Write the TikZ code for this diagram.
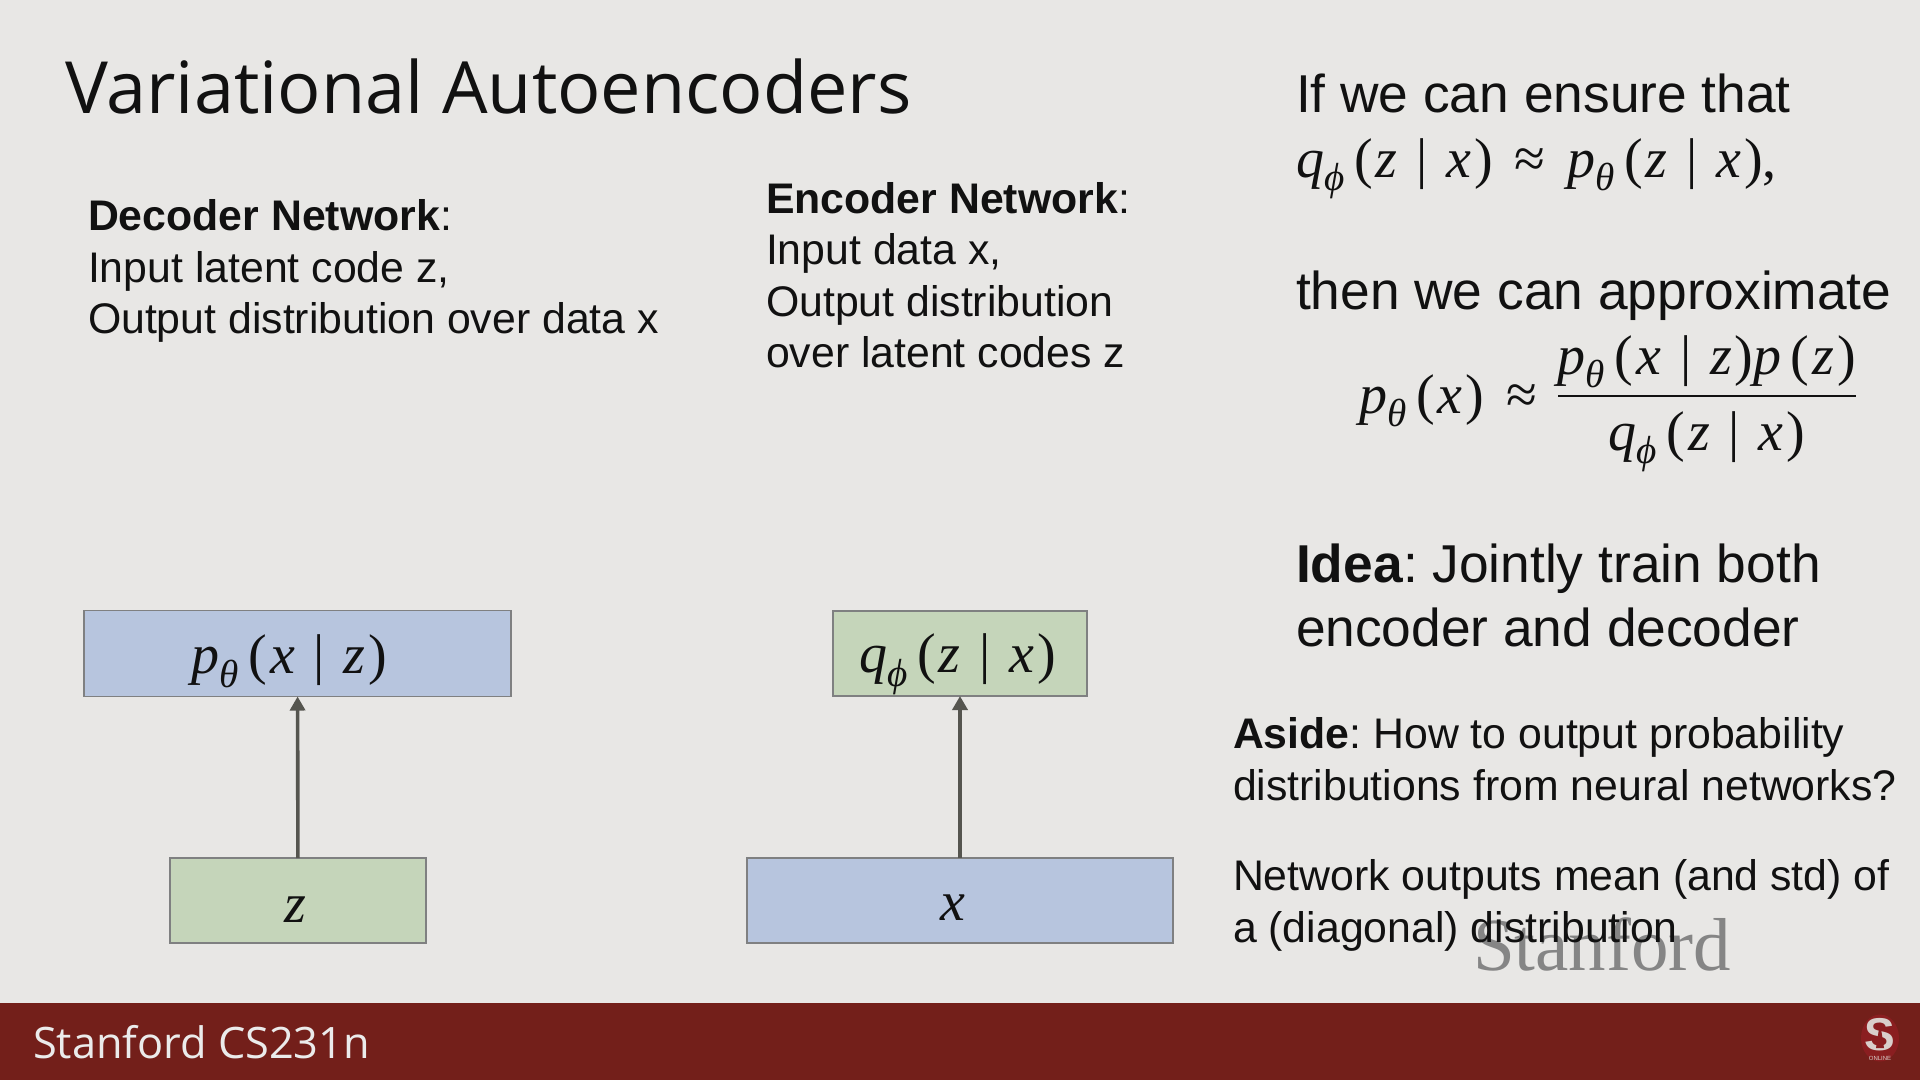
\documentclass[tikz,border=0pt]{standalone}
\usepackage{fix-cm}
\usepackage{amsmath}
\usepackage{fontspec}
\setmainfont{Liberation Sans}
\newfontfamily\titlefont{Open Sans}
\newfontfamily\wmfont{Liberation Serif}
\definecolor{bgc}{HTML}{E8E7E5}
\definecolor{barc}{HTML}{731F1A}
\definecolor{logoc}{HTML}{8A1E20}
\definecolor{logos}{HTML}{D9CFCB}
\definecolor{bluec}{HTML}{B7C5DE}
\definecolor{greenc}{HTML}{C5D5BA}
\definecolor{edgec}{HTML}{7F8081}
\definecolor{arrowc}{HTML}{55554F}
\definecolor{inkc}{HTML}{111111}
\usetikzlibrary{arrows.meta,shapes.geometric}
\tikzset{
  x=1pt,y=-1pt,
  every node/.style={inner sep=0pt,outer sep=0pt,text=inkc},
  txt/.style={anchor=base west,font=\fontsize{42.8}{50}\selectfont},
  big/.style={anchor=base west,font=\fontsize{53.3}{62}\selectfont},
  eq/.style={anchor=base west,font=\fontsize{56}{66}\selectfont},
  boxb/.style={draw=edgec,line width=1.8pt,fill=bluec,font=\fontsize{56}{66}\selectfont},
  boxg/.style={draw=edgec,line width=1.8pt,fill=greenc,font=\fontsize{56}{66}\selectfont},
  conn/.style={draw=arrowc,line width=3.6pt,-{Triangle[length=14pt,width=15pt]},shorten >=0pt},
}
\newcommand{\mv}[1]{\text{\wmfont\itshape #1}}
\newcommand{\mr}[1]{\text{\wmfont #1}}
\newcommand{\cnd}{\mskip6mu\text{\wmfont|}\mskip6mu}
\newcommand{\mP}{\mv{p}_{\mv{θ}}}
\newcommand{\mQ}{\mv{q}_{\mv{ϕ}}}
\newcommand{\lp}{\mskip3mu\mr{(}\mskip1mu}
\newcommand{\rp}{\mskip1mu\mr{)}}
\newcommand{\apx}{\mathrel{\mr{≈}}}
% label centred on its node, moved by #1 across, with its baseline #2 below the centre
\newcommand{\lbl}[3]{\hbox to 0pt{\hss\kern#1\raisebox{-#2}[0pt][0pt]{$#3$}\kern-#1\hss}}
\frenchspacing
\begin{document}
\begin{tikzpicture}
\useasboundingbox (0,0) rectangle (1920,1080);
\fill[bgc] (0,0) rectangle (1920,1080);
\fill[barc] (0,1003) rectangle (1920,1080);
\node[anchor=base west,font=\titlefont\fontsize{72}{84}\selectfont] (title) at (65,113) {Variational Autoencoders};
\node[anchor=base west,font=\titlefont\fontsize{43.3}{50}\selectfont,text=white!92!black] (foot) at (33,1058) {Stanford CS231n};
% watermark
\node[anchor=base west,font=\wmfont\fontsize{75}{85}\selectfont,text=black!48] (wm) at (1473,970) {Stanford};
% logo
\node[ellipse,fill=logoc,minimum width=38pt,minimum height=47pt] (logo) at (1880,1038) {};
\node[font=\bfseries\fontsize{46}{46}\selectfont,text=logos] (logoS) at (1880,1035) {S};
\fill[logoc] (1880,1022) -- (1884,1048) -- (1876,1048) -- cycle;
\node[font=\fontsize{6}{6}\selectfont,text=logos] (logot) at (1880,1058) {ONLINE};
% left
\node[txt] (d1) at (88,230) {\textbf{Decoder Network}:};
\node[txt] (d2) at (88,282) {Input latent code z,};
\node[txt] (d3) at (88,333) {Output distribution over data x};
\node[txt] (e1) at (766,213) {\textbf{Encoder Network}:};
\node[txt] (e2) at (766,264) {Input data x,};
\node[txt] (e3) at (766,316) {Output distribution};
\node[txt] (e4) at (766,367) {over latent codes z};
% right
\node[big] (r1) at (1296,112) {If we can ensure that};
\node[eq] (r2) at (1296,177) {$\mQ\lp\mv{z}\cnd\mv{x}\rp\mskip2mu\apx\mskip2mu\mP\lp\mv{z}\cnd\mv{x}\rp\mr{,}$};
\node[big] (r3) at (1296,309) {then we can approximate};
\node[eq] (r4) at (1359,413) {$\mP\lp\mv{x}\rp\mskip2mu\apx$};
\node[eq,anchor=base] (num) at (1707,374) {$\mP\lp\mv{x}\cnd\mv{z}\rp\mv{p}\lp\mv{z}\rp$};
\node[eq,anchor=base] (den) at (1707,450) {$\mQ\lp\mv{z}\cnd\mv{x}\rp$};
\draw[inkc,line width=2.2pt] (1558,396) -- (1856,396);
\node[big] (i1) at (1296,582) {\textbf{Idea}: Jointly train both};
\node[big] (i2) at (1296,646) {encoder and decoder};
\node[txt] (a1) at (1233,748) {\textbf{Aside}: How to output probability};
\node[txt] (a2) at (1233,800) {distributions from neural networks?};
\node[txt] (n1) at (1233,890) {Network outputs mean (and std) of};
\node[txt] (n2) at (1233,942) {a (diagonal) distribution};
% boxes
\node[boxb,minimum width=427.5pt,minimum height=86pt] (pb) at (297.5,653.5) {\lbl{-8pt}{20pt}{\mP\lp\mv{x}\cnd\mv{z}\rp}};
\node[boxg,minimum width=256pt,minimum height=85pt] (zb) at (298,900.5) {\lbl{-2.5pt}{22pt}{\mv{z}}};
\node[boxg,minimum width=254pt,minimum height=85pt] (qb) at (960,653.5) {\lbl{-2.5pt}{19pt}{\mQ\lp\mv{z}\cnd\mv{x}\rp}};
\node[boxb,minimum width=426pt,minimum height=85pt] (xb) at (960,900.5) {\lbl{-7pt}{20pt}{\mv{x}}};
\draw[conn] (zb) -- (pb);
\draw[conn] (xb) -- (qb);
\end{tikzpicture}
\end{document}
